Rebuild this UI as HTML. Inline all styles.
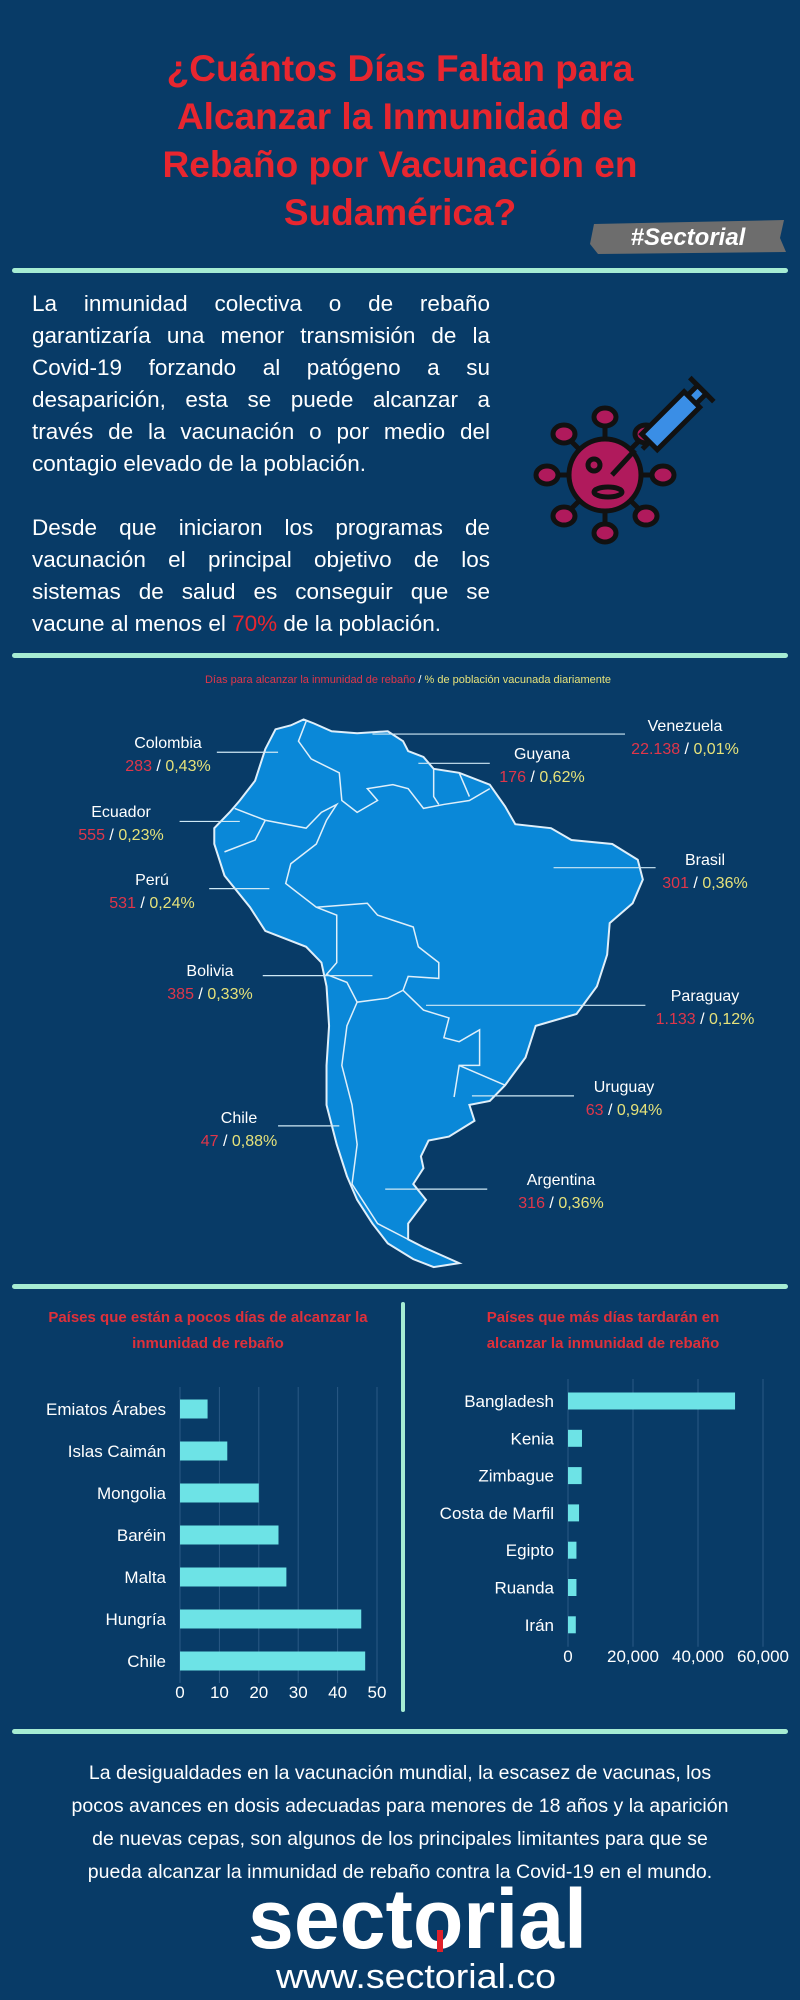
<!DOCTYPE html>
<html><head><meta charset="utf-8"><style>
body{margin:0;background:#083b67;}
#page{position:relative;width:800px;height:2000px;background:#083b67;overflow:hidden;font-family:"Liberation Sans",sans-serif;}
.abs{position:absolute;}
.title{left:0;width:800px;text-align:center;color:#e8262f;font-weight:bold;font-size:37px;line-height:48px;top:45px;}
.div{left:12px;width:776px;height:5px;background:#a6ecd3;border-radius:3px;}
.para{left:32px;width:458px;color:#fff;font-size:22.5px;line-height:32px;}
.para div{text-align:justify;text-align-last:justify;white-space:nowrap;}
.para div.last{text-align-last:left;}
.bottom{left:0;width:800px;text-align:center;color:#fff;font-size:19.5px;line-height:33px;top:1757px;}
</style></head><body>
<div id="page">
<div class="abs title">¿Cuántos Días Faltan para<br>Alcanzar la Inmunidad de<br>Rebaño por Vacunación en<br>Sudamérica?</div>
<svg class="abs" style="left:590px;top:218px" width="196" height="38">
<polygon points="4,6 194,2 190,20 196,34 8,36 0,26" fill="#6d6d6d"/>
<text x="98" y="27" text-anchor="middle" fill="#fff" font-weight="bold" font-style="italic" font-size="24" font-family="Liberation Sans">#Sectorial</text></svg>
<div class="abs div" style="top:268px"></div>
<div class="abs para" style="top:288px">
<div>La inmunidad colectiva o de rebaño</div>
<div>garantizaría una menor transmisión de la</div>
<div>Covid-19 forzando al patógeno a su</div>
<div>desaparición, esta se puede alcanzar a</div>
<div>través de la vacunación o por medio del</div>
<div class="last">contagio elevado de la población.</div></div>
<div class="abs para" style="top:512px">
<div>Desde que iniciaron los programas de</div>
<div>vacunación el principal objetivo de los</div>
<div>sistemas de salud es conseguir que se</div>
<div class="last">vacune al menos el <span style="color:#e8262f">70%</span> de la población.</div></div>
<svg class="abs" style="left:530px;top:360px" width="220" height="200">
<g stroke="#111" stroke-width="5" fill="#b01a5c">
<g id="spikes"></g>
<circle cx="75" cy="115" r="36"/>
<circle cx="64" cy="105" r="6" fill="#b01a5c"/>
<ellipse cx="78" cy="132" rx="14" ry="5"/>
<line x1="82" y1="115" x2="105" y2="90"/>
<g transform="rotate(-45 140 60)"><rect x="110" y="50" width="60" height="22" fill="#3a8ee6"/><rect x="170" y="55" width="14" height="12" fill="#3a8ee6"/><line x1="184" y1="44" x2="184" y2="78"/><line x1="100" y1="61" x2="110" y2="61"/></g>
</g></svg>
<div class="abs div" style="top:653px"></div>
<svg class="abs" style="left:0;top:670px" width="800" height="620">
<text x="408" y="13" text-anchor="middle" font-size="11" font-family="Liberation Sans"><tspan fill="#e0364a">Días para alcanzar la inmunidad de rebaño</tspan><tspan fill="#fff"> / </tspan><tspan fill="#e6e27a">% de población vacunada diariamente</tspan></text>
<g transform="scale(0.5102,0.3954)">
<path fill="#0a88d8" stroke="#dfeffa" stroke-width="2" vector-effect="non-scaling-stroke" d="M595,125 L615,135 L650,155 L700,160 L760,155 L790,180 L800,205 L830,220 L850,250 L900,260 L960,290 L990,345 L1010,390 L1080,400 L1120,430 L1200,440 L1250,480 L1260,530 L1240,590 L1195,640 L1190,720 L1170,800 L1130,870 L1050,900 L1030,980 L990,1050 L960,1090 L920,1100 L930,1140 L880,1180 L840,1190 L825,1230 L830,1260 L810,1300 L835,1340 L800,1400 L800,1440 L830,1460 L900,1500 L850,1510 L810,1490 L760,1450 L730,1400 L700,1340 L680,1280 L660,1200 L640,1100 L640,1000 L645,900 L640,800 L630,740 L600,700 L520,660 L490,600 L440,520 L420,440 L420,400 L450,360 L470,330 L500,280 L520,200 L540,150 L570,140 Z"/>
<g fill="none" stroke="#dfeffa" stroke-width="1.5" vector-effect="non-scaling-stroke">
<polyline vector-effect="non-scaling-stroke" points="600,130 585,180 610,225 665,260 670,330 700,360 740,330 720,300 770,290 800,300 830,350 870,340 920,330 960,300"/>
<polyline vector-effect="non-scaling-stroke" points="460,350 520,380 600,400 630,360 660,340 640,380 620,440 570,490 560,540 620,600 660,620 660,740 640,770 680,790 700,840 760,830 790,810 800,775 860,780 860,740 820,700 810,650 740,620 720,590 620,600"/>
<polyline vector-effect="non-scaling-stroke" points="520,380 500,430 440,460"/>
<polyline vector-effect="non-scaling-stroke" points="700,840 680,900 670,1000 690,1100 700,1200 690,1300 740,1400 800,1440"/>
<polyline vector-effect="non-scaling-stroke" points="790,810 830,860 880,880 870,930 900,940 940,910 940,1000 900,1000 890,1080"/>
<polyline vector-effect="non-scaling-stroke" points="900,1000 990,1050"/>
<polyline vector-effect="non-scaling-stroke" points="850,250 850,320 860,340"/><polyline vector-effect="non-scaling-stroke" points="900,260 920,320"/>
</g>
<g stroke="#cfe9f5" stroke-width="1.2" vector-effect="non-scaling-stroke" id="arrows"></g>
</g>
<g id="labels" font-family="Liberation Sans" font-size="16" text-anchor="middle"></g>
</svg>
<div class="abs div" style="top:1284px"></div>
<div class="abs" style="left:401px;top:1302px;width:4px;height:410px;background:#a6ecd3;border-radius:2px"></div>
<div class="abs" style="left:12px;width:392px;top:1305px;text-align:center;color:#e0303a;font-weight:bold;font-size:15px;line-height:26px">Países que están a pocos días de alcanzar la<br>inmunidad de rebaño</div>
<div class="abs" style="left:408px;width:390px;top:1305px;text-align:center;color:#e0303a;font-weight:bold;font-size:15px;line-height:26px">Países que más días tardarán en<br>alcanzar la inmunidad de rebaño</div>
<svg class="abs" style="left:0;top:0" width="800" height="2000" id="charts"></svg>
<div class="abs div" style="top:1729px"></div>
<div class="abs bottom">La desigualdades en la vacunación mundial, la escasez de vacunas, los<br>pocos avances en dosis adecuadas para menores de 18 años y la aparición<br>de nuevas cepas, son algunos de los principales limitantes para que se<br>pueda alcanzar la inmunidad de rebaño contra la Covid-19 en el mundo.</div>
<svg class="abs" style="left:0;top:1870px" width="800" height="130">
<text x="248" y="78" textLength="339" lengthAdjust="spacingAndGlyphs" fill="#fff" font-weight="bold" font-size="84" font-family="Liberation Sans">sectorial</text>
<rect x="437" y="60" width="6" height="22" fill="#e0202a"/>
<text x="276" y="118" textLength="280" lengthAdjust="spacingAndGlyphs" fill="#fff" font-size="34" font-family="Liberation Sans">www.sectorial.co</text>
</svg>
</div>
<script>
const leftCats=["Emiatos Árabes","Islas Caimán","Mongolia","Baréin","Malta","Hungría","Chile"];
const leftVals=[7,12,20,25,27,46,47];
const leftTicks=[0,10,20,30,40,50];
const rightCats=["Bangladesh","Kenia","Zimbague","Costa de Marfil","Egipto","Ruanda","Irán"];
const rightVals=[51400,4300,4200,3400,2600,2600,2400];
const rightTicks=[0,20000,40000,60000];
const rightTickLabels=["0","20,000","40,000","60,000"];
const NS="http://www.w3.org/2000/svg";
function mk(p,t,a){const e=document.createElementNS(NS,t);for(const k in a)e.setAttribute(k,a[k]);p.appendChild(e);return e;}
const svg=document.getElementById('charts');
function chart(cats,vals,ticks,tl,x0,pxPer,y0,step,bh,tickY,name){
  const xs=v=>x0+v*pxPer;
  ticks.forEach((t,i)=>{
    const g=mk(svg,'line',{x1:xs(t),x2:xs(t),y1:y0-22,y2:y0+step*(cats.length-1)+22,stroke:'#2a5a85','stroke-width':1});
    
    
    const tx=mk(svg,'text',{x:xs(t),y:tickY,fill:'#fff','font-size':17,'text-anchor':'middle','font-family':'Liberation Sans'});
    tx.textContent=tl[i];
    
    
  });
  cats.forEach((c,i)=>{
    const y=y0+i*step;
    const r=mk(svg,'rect',{x:x0,y:y-bh/2,width:xs(vals[i])-x0,height:bh,fill:'#6de3e6'});
    
    
    const t=mk(svg,'text',{x:x0-14,y:y+6,fill:'#fff','font-size':17,'text-anchor':'end','font-family':'Liberation Sans'});
    t.textContent=c;
    
    
  });
}
chart(leftCats,leftVals,leftTicks,leftTicks.map(String),180,3.94,1409,42,19,1698,'left-chart');
chart(rightCats,rightVals,rightTicks,rightTickLabels,568,65/20000,1401,37.3,17,1662,'right-chart');
const mapNames=["Colombia","Ecuador","Perú","Bolivia","Chile","Venezuela","Guyana","Brasil","Paraguay","Uruguay","Argentina"];
const mapDays=["283","555","531","385","47","22.138","176","301","1.133","63","316"];
const mapPct=["0,43%","0,23%","0,24%","0,33%","0,88%","0,01%","0,62%","0,36%","0,12%","0,94%","0,36%"];
const labelPos=[[168,78],[121,147],[152,215],[210,306],[239,453],[685,61],[542,89],[705,195],[705,331],[624,422],[561,515]];
const arrowPos=[[545,208,425],[470,383,352],[528,553,410],[730,773,515],[665,1153,545],[730,162,1225],[820,236,960],[1085,500,1285],[835,848,1265],[925,1077,1125],[755,1313,955]];
const lg=document.getElementById('labels');
mapNames.forEach((n,i)=>{
  const [x,y]=labelPos[i];
  const t=mk(lg,'text',{x:x,y:y,fill:'#fff'});t.textContent=n;
  
  
  const v=mk(lg,'text',{x:x,y:y+23});
  
  
  const a=mk(v,'tspan',{fill:'#e0364a'});a.textContent=mapDays[i];
  const b=mk(v,'tspan',{fill:'#fff'});b.textContent=' / ';
  const c=mk(v,'tspan',{fill:'#e6e27a'});c.textContent=mapPct[i];
});
const ag=document.getElementById('arrows');
arrowPos.forEach(p=>{
  const l=mk(ag,'line',{x1:p[0],y1:p[1],x2:p[2],y2:p[1],'vector-effect':'non-scaling-stroke'});
  
  
});
const sp=document.getElementById('spikes');
for(let k=0;k<8;k++){const a=k*Math.PI/4;const cx=75+Math.cos(a)*58,cy=115+Math.sin(a)*58;
 mk(sp,'line',{x1:75,y1:115,x2:cx,y2:cy});mk(sp,'ellipse',{cx:cx,cy:cy,rx:11,ry:9});}
</script>
</body></html>
